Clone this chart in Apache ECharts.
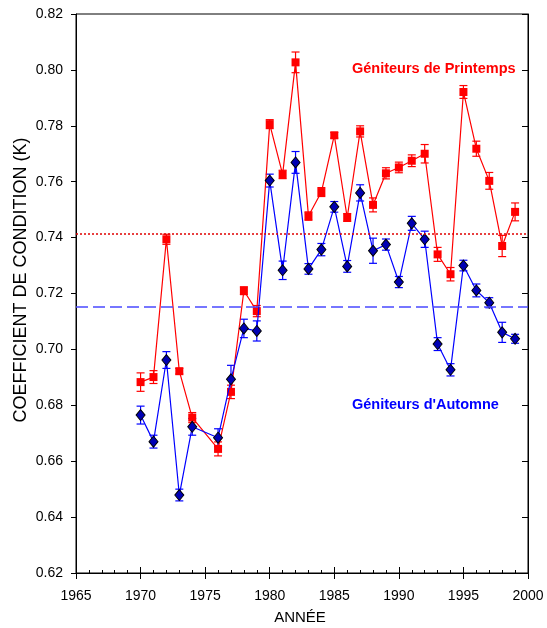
<!DOCTYPE html>
<html>
<head>
<meta charset="utf-8">
<script src="https://cdn.jsdelivr.net/npm/echarts@6/dist/echarts.min.js"></script>
<style>html,body{margin:0;padding:0;background:#fff}#c{width:547px;height:628px}</style>
</head>
<body>
<div id="c"></div>
<script>
// ---- data ----
const years = [1970,1971,1972,1973,1974,1976,1977,1978,1979,1980,1981,1982,1983,1984,1985,1986,1987,1988,1989,1990,1991,1992,1993,1994,1995,1996,1997,1998,1999];
const springK = [0.6883,0.6901,0.7394,0.6922,0.6756,0.6644,0.6848,0.7210,0.7137,0.7806,0.7626,0.8027,0.7477,0.7563,0.7766,0.7472,0.7780,0.7517,0.7630,0.7651,0.7675,0.7700,0.7340,0.7269,0.7921,0.7718,0.7603,0.7370,0.7492];
const springErr = [0.0033,0.0023,0.0018,0.0010,0.0018,0.0025,0.0024,0.0014,0.0020,0.0016,0.0015,0.0037,0.0015,0.0016,0.0010,0.0014,0.0020,0.0025,0.0020,0.0019,0.0021,0.0033,0.0025,0.0024,0.0023,0.0027,0.0030,0.0038,0.0032];
const autumnK = [0.6765,0.6670,0.6962,0.6479,0.6723,0.6684,0.6893,0.7075,0.7066,0.7604,0.7283,0.7669,0.7288,0.7357,0.7510,0.7297,0.7560,0.7353,0.7375,0.7241,0.7451,0.7394,0.7019,0.6927,0.7300,0.7211,0.7167,0.7061,0.7038];
const autumnErr = [0.0032,0.0023,0.0030,0.0021,0.0030,0.0032,0.0050,0.0033,0.0036,0.0023,0.0033,0.0039,0.0019,0.0022,0.0019,0.0021,0.0029,0.0045,0.0020,0.0020,0.0025,0.0029,0.0023,0.0022,0.0019,0.0023,0.0018,0.0036,0.0016];
const springMean = 0.7415;
const autumnMean = 0.7152;
const yTicks = ['0.62','0.64','0.66','0.68','0.70','0.72','0.74','0.76','0.78','0.80','0.82'];
const xTicks = ['1965','1970','1975','1980','1985','1990','1995','2000'];
const springLabel = 'Géniteurs de Printemps';
const autumnLabel = "Géniteurs d'Automne";
const xName = 'ANNÉE';
const yName = 'COEFFICIENT DE CONDITION (K)';

// ---- build ----
const FONT = '"Liberation Sans", Arial, sans-serif';
const RED = '#ff0000', BLUE = '#0000ff';
const xMin = +xTicks[0], xMax = +xTicks[xTicks.length-1];
const yMin = +yTicks[0], yMax = +yTicks[yTicks.length-1];

function errData(vals, errs){ return years.map((y,i)=>[y, vals[i]-errs[i], vals[i]+errs[i]]); }
function errSeries(vals, errs, color){
  return {
    type:'custom', xAxisIndex:0, yAxisIndex:0, z:2,
    data: errData(vals, errs),
    encode:{x:0, y:[1,2]},
    renderItem:function(params, api){
      const lo = api.coord([api.value(0), api.value(1)]);
      const hi = api.coord([api.value(0), api.value(2)]);
      const w = 4;
      const st = {stroke:color, lineWidth:1.2};
      return {type:'group', children:[
        {type:'line', shape:{x1:lo[0],y1:lo[1],x2:hi[0],y2:hi[1]}, style:st},
        {type:'line', shape:{x1:lo[0]-w,y1:lo[1],x2:lo[0]+w,y2:lo[1]}, style:st},
        {type:'line', shape:{x1:hi[0]-w,y1:hi[1],x2:hi[0]+w,y2:hi[1]}, style:st}
      ]};
    }
  };
}

const chart = echarts.init(document.getElementById('c'), null, {renderer:'canvas'});
const gridL = 76, gridR = 19, gridT = 14, gridB = 55;
chart.setOption({
  animation:false,
  backgroundColor:'#fff',
  grid:{left:gridL, right:gridR, top:gridT, bottom:gridB, show:true, borderColor:'#000', borderWidth:1},
  xAxis:[
    {type:'value', position:'bottom', min:xMin, max:xMax, interval:5,
     axisLine:{show:true, onZero:false, lineStyle:{color:'#000'}},
     axisTick:{show:true, inside:false, length:6, lineStyle:{color:'#000'}},
     axisLabel:{color:'#000', fontFamily:FONT, fontSize:14, margin:16, formatter:v=>String(v)},
     splitLine:{show:false}},
    {type:'value', position:'bottom', min:xMin, max:xMax, interval:5,
     axisLine:{show:false, onZero:false},
     axisTick:{show:true, inside:true, length:6, lineStyle:{color:'#000'}},
     minorTick:{show:true, splitNumber:5, length:3, lineStyle:{color:'#000'}},
     axisLabel:{show:false}, splitLine:{show:false}}
  ],
  yAxis:[
    {type:'value', position:'left', min:yMin, max:yMax, interval:0.02,
     axisLine:{show:true, onZero:false, lineStyle:{color:'#000'}},
     axisTick:{show:true, inside:false, length:5, lineStyle:{color:'#000'}},
     axisLabel:{color:'#000', fontFamily:FONT, fontSize:14, margin:13, formatter:v=>v.toFixed(2)},
     splitLine:{show:false}},
    {type:'value', position:'right', min:yMin, max:yMax, interval:0.02,
     axisLine:{show:true, onZero:false, lineStyle:{color:'#000'}},
     axisTick:{show:true, inside:true, length:6, lineStyle:{color:'#000'}},
     axisLabel:{show:false}, splitLine:{show:false}}
  ],
  series:[
    errSeries(springK, springErr, RED),
    {type:'line', name:'spring', xAxisIndex:0, yAxisIndex:0, z:3,
     data: years.map((y,i)=>[y, springK[i]]),
     symbol:'rect', symbolSize:8, showSymbol:true,
     lineStyle:{color:RED, width:1.2}, itemStyle:{color:RED},
     markLine:{silent:true, symbol:'none', precision:4, label:{show:false},
       lineStyle:{color:'#e00000', type:[2,2], width:1.5},
       data:[{yAxis:springMean}]}},
    errSeries(autumnK, autumnErr, BLUE),
    {type:'line', name:'autumn', xAxisIndex:0, yAxisIndex:0, z:4,
     data: years.map((y,i)=>[y, autumnK[i]]),
     symbol:'diamond', symbolSize:[9,11], showSymbol:true,
     lineStyle:{color:BLUE, width:1.2}, itemStyle:{color:'#0000b4', borderColor:'#000', borderWidth:1},
     markLine:{silent:true, symbol:'none', precision:4, label:{show:false},
       lineStyle:{color:'#4a4aff', type:[12,5], width:1.5},
       data:[{yAxis:autumnMean}]}}
  ],
  graphic:[
    {type:'text', left:352, top:61, style:{text:springLabel, fill:RED, font:'bold 14.5px '+FONT}},
    {type:'text', left:352, top:397, style:{text:autumnLabel, fill:BLUE, font:'bold 14.5px '+FONT}},
    {type:'text', x:300, y:618, style:{text:xName, fill:'#000', font:'15px '+FONT, align:'center', verticalAlign:'middle'}},
    {type:'text', x:21, y:280, rotation:Math.PI/2, style:{text:yName, fill:'#000', font:'18px '+FONT, align:'center', verticalAlign:'middle'}}
  ]
});
</script>
</body>
</html>
